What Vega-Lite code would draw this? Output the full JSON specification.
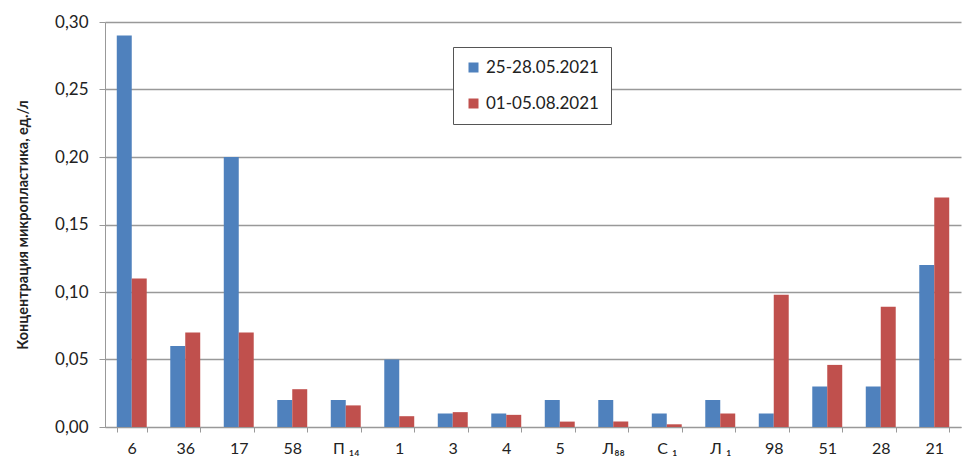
{
  "$schema": "https://vega.github.io/schema/vega-lite/v6.json",
  "width": 856,
  "height": 405,
  "autosize": {"type": "none"},
  "padding": {"left": 105, "top": 22, "right": 3, "bottom": 37},
  "background": "white",
  "config": {
    "font": "Lato",
    "view": {"stroke": null},
    "axis": {"labelFont": "Lato", "titleFont": "Lato"}
  },
  "data": {
    "values": [
      {"site": "6", "period": "25-28.05.2021", "value": 0.29},
      {"site": "6", "period": "01-05.08.2021", "value": 0.11},
      {"site": "36", "period": "25-28.05.2021", "value": 0.06},
      {"site": "36", "period": "01-05.08.2021", "value": 0.07},
      {"site": "17", "period": "25-28.05.2021", "value": 0.20},
      {"site": "17", "period": "01-05.08.2021", "value": 0.07},
      {"site": "58", "period": "25-28.05.2021", "value": 0.02},
      {"site": "58", "period": "01-05.08.2021", "value": 0.028},
      {"site": "П ₁₄", "period": "25-28.05.2021", "value": 0.02},
      {"site": "П ₁₄", "period": "01-05.08.2021", "value": 0.016},
      {"site": "1", "period": "25-28.05.2021", "value": 0.05},
      {"site": "1", "period": "01-05.08.2021", "value": 0.008},
      {"site": "3", "period": "25-28.05.2021", "value": 0.01},
      {"site": "3", "period": "01-05.08.2021", "value": 0.011},
      {"site": "4", "period": "25-28.05.2021", "value": 0.01},
      {"site": "4", "period": "01-05.08.2021", "value": 0.009},
      {"site": "5", "period": "25-28.05.2021", "value": 0.02},
      {"site": "5", "period": "01-05.08.2021", "value": 0.004},
      {"site": "Л₈₈", "period": "25-28.05.2021", "value": 0.02},
      {"site": "Л₈₈", "period": "01-05.08.2021", "value": 0.004},
      {"site": "С ₁", "period": "25-28.05.2021", "value": 0.01},
      {"site": "С ₁", "period": "01-05.08.2021", "value": 0.002},
      {"site": "Л ₁", "period": "25-28.05.2021", "value": 0.02},
      {"site": "Л ₁", "period": "01-05.08.2021", "value": 0.01},
      {"site": "98", "period": "25-28.05.2021", "value": 0.01},
      {"site": "98", "period": "01-05.08.2021", "value": 0.098},
      {"site": "51", "period": "25-28.05.2021", "value": 0.03},
      {"site": "51", "period": "01-05.08.2021", "value": 0.046},
      {"site": "28", "period": "25-28.05.2021", "value": 0.03},
      {"site": "28", "period": "01-05.08.2021", "value": 0.089},
      {"site": "21", "period": "25-28.05.2021", "value": 0.12},
      {"site": "21", "period": "01-05.08.2021", "value": 0.17}
    ]
  },
  "mark": {"type": "bar"},
  "encoding": {
    "x": {
      "field": "site",
      "type": "nominal",
      "sort": null,
      "scale": {"paddingInner": 0.44, "paddingOuter": 0.22},
      "axis": {
        "title": null,
        "labelAngle": 0,
        "labelFontSize": 16,
        "labelColor": "#222",
        "labelPadding": 8,
        "tickBand": "extent",
        "tickColor": "#999",
        "tickSize": 5,
        "domainColor": "#999",
        "grid": false
      }
    },
    "xOffset": {
      "field": "period",
      "type": "nominal",
      "sort": ["25-28.05.2021", "01-05.08.2021"],
      "scale": {"paddingInner": 0, "paddingOuter": 0}
    },
    "y": {
      "field": "value",
      "type": "quantitative",
      "scale": {"domain": [0, 0.3], "nice": false},
      "axis": {
        "title": "Концентрация микропластика, ед./л",
        "titleFontSize": 14.5,
        "titleFontWeight": "bold",
        "titleColor": "#222",
        "titlePadding": 24,
        "values": [0, 0.05, 0.1, 0.15, 0.2, 0.25, 0.3],
        "labelExpr": "replace(format(datum.value, '.2f'), '.', ',')",
        "labelFontSize": 17,
        "labelColor": "#222",
        "labelPadding": 11,
        "tickColor": "#999",
        "tickSize": 6,
        "domainColor": "#999",
        "gridColor": "#999",
        "gridWidth": 1.5
      }
    },
    "color": {
      "field": "period",
      "type": "nominal",
      "sort": ["25-28.05.2021", "01-05.08.2021"],
      "scale": {"domain": ["25-28.05.2021", "01-05.08.2021"], "range": ["#4F81BD", "#C0504D"]},
      "legend": {
        "title": null,
        "orient": "none",
        "legendX": 348,
        "legendY": 25,
        "symbolType": "square",
        "symbolSize": 100,
        "labelFontSize": 17,
        "labelColor": "#222",
        "rowPadding": 18,
        "padding": 12,
        "strokeColor": "#555",
        "fillColor": "white",
        "labelLimit": 300
      }
    }
  }
}
